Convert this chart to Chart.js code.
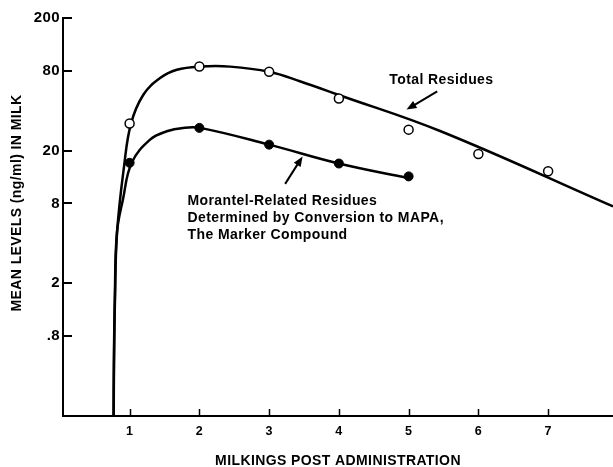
<!DOCTYPE html>
<html>
<head>
<meta charset="utf-8">
<script src="https://cdn.jsdelivr.net/npm/chart.js@4.4.0/dist/chart.umd.min.js"></script>
<style>
  body { margin: 0; background: #fff; }
  canvas { display: block; }
</style>
</head>
<body>
<canvas id="myChart" width="613" height="467"></canvas>
<script>
// measured points (ng/ml)
var milkings = [1, 2, 3, 4, 5, 6, 7];
var totalResidues = [32.0, 86.1, 78.6, 49.5, 28.8, 18.9, 14.0];
var morantelMilkings = [1, 2, 3, 4, 5];
var morantelResidues = [16.2, 29.7, 22.2, 16.0, 12.8];

// hand drawn curves
var totalCurveX = [0.772, 0.776, 0.790, 0.820, 0.920, 1.02, 1.197, 1.437, 1.677, 2.02, 2.44, 3.0, 3.45, 4.0, 5.46, 7.93];
var totalCurveY = [0.2, 0.475, 1.52, 4.84, 15.2, 32.0, 52.8, 70.5, 81.4, 86.1, 86.0, 78.6, 66.5, 52.6, 28.0, 7.6];
var morantelCurveX = [0.770, 0.774, 0.788, 0.818, 0.905, 1.03, 1.293, 1.533, 1.767, 2.01, 3.0, 4.0, 5.0];
var morantelCurveY = [0.2, 0.475, 1.52, 4.8, 8.6, 16.2, 24.2, 28.0, 29.7, 29.7, 22.2, 16.0, 12.4];

var xTicks = [1, 2, 3, 4, 5, 6, 7];
var yTicks = [0.8, 2, 8, 20, 80, 200];
var yTickLabels = ['.8', '2', '8', '20', '80', '200'];

var FONT = '"Liberation Sans", Arial, Helvetica, sans-serif';
var yTitle = 'MEAN LEVELS (ng/ml) IN MILK';

// callouts in data units
var notes = [
  { lines: ['Total Residues'], x: 5.47, y: 67.5, align: 'center' },
  { lines: ['Morantel-Related Residues', 'Determined by Conversion to MAPA,', 'The Marker Compound'], x: 1.83, y: 8.3, align: 'left' }
];
var arrows = [
  { from: [5.41, 56], to: [4.97, 40.8] },
  { from: [3.23, 11.24], to: [3.48, 18.1] }
];

function toPoints(xs, ys) {
  return xs.map(function (x, i) { return { x: x, y: ys[i] }; });
}

var extras = {
  id: 'extras',
  beforeDraw: function (chart) {
    chart.ctx.letterSpacing = '0.4px';
  },
  afterDraw: function (chart) {
    var ctx = chart.ctx;
    var xs = chart.scales.x;
    var ys = chart.scales.y;
    var area = chart.chartArea;
    ctx.save();
    ctx.strokeStyle = '#000';
    ctx.fillStyle = '#000';

    // inward tick marks
    ctx.lineWidth = 2;
    yTicks.forEach(function (v) {
      var py = Math.round(ys.getPixelForValue(v));
      ctx.beginPath();
      ctx.moveTo(area.left, py);
      ctx.lineTo(area.left + 9, py);
      ctx.stroke();
    });
    ctx.lineWidth = 1.5;
    xTicks.forEach(function (v) {
      var px = Math.round(xs.getPixelForValue(v)) + 0.5;
      ctx.beginPath();
      ctx.moveTo(px, area.bottom);
      ctx.lineTo(px, area.bottom - 7);
      ctx.stroke();
    });

    // text
    ctx.font = 'bold 14px ' + FONT;
    ctx.letterSpacing = '0.4px';
    ctx.textBaseline = 'middle';
    notes.forEach(function (n) {
      var px = xs.getPixelForValue(n.x);
      var py = ys.getPixelForValue(n.y);
      ctx.textAlign = n.align;
      n.lines.forEach(function (t, i) {
        ctx.fillText(t, px, py + i * 17);
      });
    });

    // y axis title, sits a bit above the middle in the original
    ctx.save();
    ctx.translate(17, 203);
    ctx.rotate(-Math.PI / 2);
    ctx.textAlign = 'center';
    ctx.fillText(yTitle, 0, 0);
    ctx.restore();

    // arrows
    ctx.lineWidth = 2;
    arrows.forEach(function (a) {
      var x1 = xs.getPixelForValue(a.from[0]), y1 = ys.getPixelForValue(a.from[1]);
      var x2 = xs.getPixelForValue(a.to[0]), y2 = ys.getPixelForValue(a.to[1]);
      var ang = Math.atan2(y2 - y1, x2 - x1);
      ctx.beginPath();
      ctx.moveTo(x1, y1);
      ctx.lineTo(x2 - 5 * Math.cos(ang), y2 - 5 * Math.sin(ang));
      ctx.stroke();
      ctx.beginPath();
      ctx.moveTo(x2, y2);
      ctx.lineTo(x2 - 10 * Math.cos(ang) + 4 * Math.sin(ang), y2 - 10 * Math.sin(ang) - 4 * Math.cos(ang));
      ctx.lineTo(x2 - 10 * Math.cos(ang) - 4 * Math.sin(ang), y2 - 10 * Math.sin(ang) + 4 * Math.cos(ang));
      ctx.closePath();
      ctx.fill();
    });
    ctx.restore();
  }
};

var ctx = document.getElementById('myChart').getContext('2d');
var myChart = new Chart(ctx, {
  type: 'scatter',
  data: {
    datasets: [{
      label: 'Total Residues',
      data: toPoints(milkings, totalResidues),
      pointRadius: 4.5,
      pointBorderWidth: 1.5,
      pointBackgroundColor: '#fff',
      pointBorderColor: '#000',
      showLine: false
    }, {
      label: 'Morantel-Related Residues',
      data: toPoints(morantelMilkings, morantelResidues),
      pointRadius: 4.5,
      pointBorderWidth: 1,
      pointBackgroundColor: '#000',
      pointBorderColor: '#000',
      showLine: false
    }, {
      label: 'total curve',
      data: toPoints(totalCurveX, totalCurveY),
      showLine: true,
      pointRadius: 0,
      borderColor: '#000',
      borderWidth: 2.5,
      tension: 0.4
    }, {
      label: 'morantel curve',
      data: toPoints(morantelCurveX, morantelCurveY),
      showLine: true,
      pointRadius: 0,
      borderColor: '#000',
      borderWidth: 2.5,
      tension: 0.4
    }]
  },
  options: {
    responsive: false,
    animation: false,
    layout: { autoPadding: false, padding: { top: 18, right: 0, left: 0, bottom: 0 } },
    plugins: { legend: { display: false }, tooltip: { enabled: false } },
    scales: {
      x: {
        type: 'linear',
        min: 0.045,
        max: 7.93,
        grid: { display: false, drawTicks: false },
        border: { display: true, color: '#000', width: 2 },
        afterBuildTicks: function (scale) {
          scale.ticks = xTicks.map(function (v) { return { value: v }; });
        },
        afterFit: function (scale) { scale.height = 51; },
        ticks: {
          color: '#000',
          padding: 8,
          maxRotation: 0,
          font: { family: FONT, size: 12.5, weight: 'bold' },
          callback: function (v) { return String(v); }
        },
        title: {
          display: true,
          text: 'MILKINGS POST ADMINISTRATION',
          color: '#000',
          padding: { top: 0, bottom: -3 },
          font: { family: FONT, size: 14, weight: 'bold' }
        }
      },
      y: {
        type: 'logarithmic',
        min: 0.2,
        max: 200,
        grid: { display: false, drawTicks: false },
        border: { display: true, color: '#000', width: 2 },
        afterBuildTicks: function (scale) {
          scale.ticks = yTicks.map(function (v) { return { value: v }; });
        },
        afterFit: function (scale) { scale.width = 63; },
        ticks: {
          color: '#000',
          padding: 3,
          font: { family: FONT, size: 15, weight: 'bold' },
          callback: function (v) {
            var i = yTicks.indexOf(v);
            return i >= 0 ? yTickLabels[i] : '';
          }
        },
        title: { display: false }
      }
    }
  },
  plugins: [extras]
});
</script>
</body>
</html>
